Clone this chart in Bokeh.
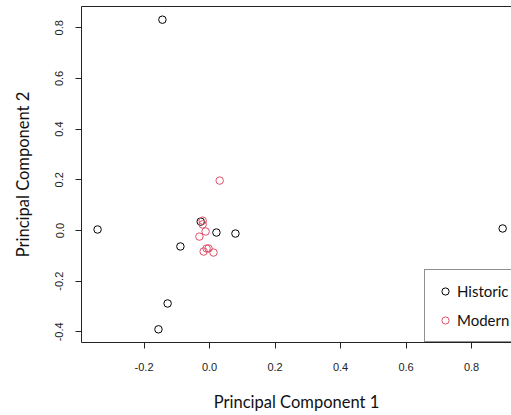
from bokeh.plotting import figure
from bokeh.models import FixedTicker, LinearAxis, Range1d, Legend, LegendItem
from bokeh.embed import file_html
from bokeh.resources import INLINE

# Data
historic_pc1 = [-0.144, -0.342, 0.895, -0.128, -0.156, -0.089, -0.027, 0.021, 0.079]
historic_pc2 = [0.832, 0.004, 0.008, -0.288, -0.390, -0.063, 0.035, -0.008, -0.012]
modern_pc1 = [0.031, -0.021, -0.021, -0.012, -0.031, -0.009, -0.018, -0.003, 0.012]
modern_pc2 = [0.197, 0.039, 0.024, -0.004, -0.024, -0.071, -0.083, -0.071, -0.087]
x_ticks = [-0.2, 0.0, 0.2, 0.4, 0.6, 0.8]
x_tick_labels = ["-0.2", "0.0", "0.2", "0.4", "0.6", "0.8"]
y_ticks = [-0.4, -0.2, 0.0, 0.2, 0.4, 0.6, 0.8]
y_tick_labels = ["-0.4", "-0.2", "0.0", "0.2", "0.4", "0.6", "0.8"]
series_labels = ["Historic", "Modern"]
x_title = "Principal Component 1"
y_title = "Principal Component 2"

HIST_COL = "#000000"
MOD_COL = "#DF536B"
TICK_FONT = "Liberation Sans"
TITLE_FONT = "Lato"

p = figure(width=511, height=415, output_backend="svg", toolbar_location=None,
           x_range=Range1d(-0.391, 0.922), y_range=Range1d(-0.442, 0.884),
           min_border_left=81, min_border_right=0, min_border_top=6,
           min_border_bottom=73)
p.outline_line_color = None
p.grid.visible = False
p.background_fill_color = "white"

r_h = p.scatter(historic_pc1, historic_pc2, marker="circle", size=7.5,
                fill_color=None, line_color=HIST_COL, line_width=1)
r_m = p.scatter(modern_pc1, modern_pc2, marker="circle", size=7.5,
                fill_color=None, line_color=MOD_COL, line_width=1)

for ax in (p.xaxis[0], p.yaxis[0]):
    ax.axis_line_color = "#222222"
    ax.major_tick_line_color = "#222222"
    ax.major_tick_out = 6
    ax.major_tick_in = 0
    ax.minor_tick_line_color = None
    ax.major_label_text_font = TICK_FONT
    ax.major_label_text_font_size = "11px"
    ax.major_label_text_color = "#222222"
    ax.axis_label_text_font = TITLE_FONT
    ax.axis_label_text_font_size = "16.5px"
    ax.axis_label_text_font_style = "normal"
    ax.axis_label_text_color = "#111111"

p.xaxis[0].ticker = FixedTicker(ticks=x_ticks)
p.yaxis[0].ticker = FixedTicker(ticks=y_ticks)
p.xaxis[0].major_label_overrides = dict(zip(x_ticks, x_tick_labels))
p.yaxis[0].major_label_overrides = dict(zip(y_ticks, y_tick_labels))
p.xaxis[0].axis_label = x_title
p.yaxis[0].axis_label = y_title
p.xaxis[0].major_label_standoff = 14
p.xaxis[0].axis_label_standoff = 18
p.yaxis[0].major_label_standoff = 12
p.yaxis[0].axis_label_standoff = 20
p.yaxis[0].major_label_orientation = "vertical"

top_ax = LinearAxis(ticker=FixedTicker(ticks=[]), major_tick_out=0, major_tick_in=0,
                    major_label_standoff=0, minor_tick_line_color=None,
                    axis_line_color="#222222")
p.add_layout(top_ax, "above")

legend = Legend(items=[LegendItem(label=series_labels[0], renderers=[r_h]),
                       LegendItem(label=series_labels[1], renderers=[r_m])],
                location=(343, 0), padding=11, spacing=9,
                glyph_width=18, glyph_height=20, label_height=20,
                label_standoff=3, label_text_font=TITLE_FONT,
                label_text_font_size="15px", label_text_color="#111111",
                border_line_color="#222222", border_line_width=1,
                background_fill_color="white", background_fill_alpha=1.0,
                margin=0)
p.add_layout(legend, "center")

open("out.html", "w").write(file_html(p, INLINE))
